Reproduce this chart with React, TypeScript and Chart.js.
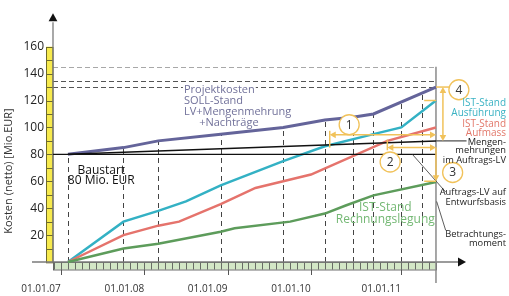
import React, { useEffect, useRef } from 'react';
import { Chart, registerables } from 'chart.js';

Chart.register(...registerables);

const FONT = "'Open Sans', 'DejaVu Sans', sans-serif";

// ---- data (x = months after 01.01.07, y = Mio. EUR) ----
const sollMonths = [1, 9, 14, 23, 32, 38, 42, 45, 54];
const sollValues = [80, 85, 90, 95, 100, 105.5, 107.5, 110, 130];

const ausfuehrungMonths = [1, 9, 14, 18, 23, 32, 38, 45, 49, 54];
const ausfuehrungValues = [0, 30, 38, 45, 57, 75, 86, 95, 100, 120];

const aufmassMonths = [1, 9, 14, 17, 23, 28, 32, 36, 47, 54];
const aufmassValues = [0, 20, 27, 30, 43, 55, 60, 65, 90, 100];

const rechnungMonths = [1, 9, 14, 23, 25, 33, 38, 41, 45, 54];
const rechnungValues = [0, 10, 13.5, 22.5, 25, 30, 36, 42, 49.5, 59.5];

const mengenMonths = [1, 54];
const mengenValues = [80, 90];

const auftragMonths = [-1.15, 54];
const auftragValues = [80, 80];

const guideMonths = [1, 9, 14, 23, 32, 38, 42, 45, 49, 52];
const budgetLevels = [145, 134.5, 130];
const betrachtungsMonth = 54;

const yTickValues = [20, 40, 60, 80, 100, 120, 140, 160];
const xTickMonths = [0, 12, 24, 36, 49];
const xTickLabels = ['01.01.07', '01.01.08', '01.01.09', '01.01.10', '01.01.11'];

const X_MIN = -1.152;
const X_MAX = 58.18;
const Y_MAX = 182.65;

const pts = (ms: number[], vs: number[]) => ms.map((m, i) => ({ x: m, y: vs[i] }));

function interp(ms: number[], vs: number[], m: number) {
  if (m <= ms[0]) return vs[0];
  for (let i = 1; i < ms.length; i++) {
    if (m <= ms[i]) {
      const t = (m - ms[i - 1]) / (ms[i] - ms[i - 1]);
      return vs[i - 1] + t * (vs[i] - vs[i - 1]);
    }
  }
  return vs[vs.length - 1];
}

function arrowHead(ctx: CanvasRenderingContext2D, x: number, y: number, dx: number, dy: number, size: number, color: string) {
  const len = Math.hypot(dx, dy);
  const ux = dx / len, uy = dy / len;
  ctx.beginPath();
  ctx.moveTo(x, y);
  ctx.lineTo(x - ux * size - uy * size * 0.55, y - uy * size + ux * size * 0.55);
  ctx.lineTo(x - ux * size + uy * size * 0.55, y - uy * size - ux * size * 0.55);
  ctx.closePath();
  ctx.fillStyle = color;
  ctx.fill();
}

const ORANGE = '#f1c25a';

export default function App() {
  const ref = useRef<HTMLCanvasElement>(null);

  useEffect(() => {
    const canvas = ref.current;
    if (!canvas) return;

    const decor = {
      id: 'decor',
      beforeDatasetsDraw(chart: any) {
        const ctx: CanvasRenderingContext2D = chart.ctx;
        const xs = chart.scales.x, ys = chart.scales.y;
        const X = (m: number) => xs.getPixelForValue(m);
        const Y = (v: number) => ys.getPixelForValue(v);
        const { left, top } = chart.chartArea;
        const y0 = Y(0);
        ctx.save();

        // budget dashed lines
        budgetLevels.forEach((lv, i) => {
          ctx.beginPath();
          ctx.setLineDash([5, 3]);
          ctx.strokeStyle = i === 0 ? '#a8a8a8' : '#555';
          ctx.lineWidth = 1;
          ctx.moveTo(left, Math.round(Y(lv)) + 0.5);
          ctx.lineTo(X(betrachtungsMonth), Math.round(Y(lv)) + 0.5);
          ctx.stroke();
        });

        // vertical guides up to SOLL line
        guideMonths.forEach((m) => {
          const px = Math.round(X(m)) + 0.5;
          ctx.beginPath();
          ctx.setLineDash([5, 4]);
          ctx.strokeStyle = '#444';
          ctx.lineWidth = 1;
          ctx.moveTo(px, y0);
          ctx.lineTo(px, Y(interp(sollMonths, sollValues, m)));
          ctx.stroke();
        });
        ctx.setLineDash([]);

        // yellow bar on the y axis
        const yb0 = left - 7;
        ctx.fillStyle = '#f7ea4d';
        ctx.fillRect(yb0, Y(160), 7, y0 - Y(160));
        ctx.strokeStyle = '#6e6a2a';
        ctx.lineWidth = 1;
        ctx.strokeRect(yb0 + 0.5, Math.round(Y(160)) + 0.5, 6.5, y0 - Y(160));
        for (let v = 10; v < 160; v += 10) {
          const py = Math.round(Y(v)) + 0.5;
          ctx.beginPath();
          ctx.moveTo(yb0, py);
          ctx.lineTo(left, py);
          ctx.stroke();
        }

        // green bar on the x axis
        const gx1 = X(betrachtungsMonth);
        ctx.fillStyle = '#d3e7c6';
        ctx.fillRect(left, y0, gx1 - left, 7.5);
        ctx.strokeStyle = '#4d4d4d';
        ctx.lineWidth = 0.8;
        ctx.strokeRect(left + 0.5, y0 + 0.5, gx1 - left, 7.5);
        for (let m = -1; m <= betrachtungsMonth; m++) {
          const px = Math.round(X(m)) + 0.5;
          if (px <= left) continue;
          ctx.beginPath();
          ctx.moveTo(px, y0);
          ctx.lineTo(px, y0 + 7.5);
          ctx.stroke();
        }
        // year ticks
        ctx.strokeStyle = '#555';
        ctx.lineWidth = 1;
        xTickMonths.forEach((m) => {
          const px = Math.round(X(m)) + 0.5;
          ctx.beginPath();
          ctx.moveTo(px, y0 + 7.5);
          ctx.lineTo(px, y0 + 13);
          ctx.stroke();
        });

        // axes
        ctx.strokeStyle = '#7a7a7a';
        ctx.lineWidth = 1.3;
        ctx.beginPath();
        ctx.moveTo(left - 21, y0);
        ctx.lineTo(chart.chartArea.right - 6, y0);
        ctx.stroke();
        arrowHead(ctx, chart.chartArea.right + 1, y0, 1, 0, 8, '#111');
        ctx.beginPath();
        ctx.moveTo(left, y0);
        ctx.lineTo(left, top + 6);
        ctx.stroke();
        arrowHead(ctx, left, top - 3, 0, -1, 8, '#111');

        // Betrachtungsmoment line
        ctx.strokeStyle = '#8a8a8a';
        ctx.lineWidth = 1.5;
        ctx.beginPath();
        ctx.moveTo(gx1, Y(145));
        ctx.lineTo(gx1, y0 + 21);
        ctx.stroke();

        // y title
        ctx.save();
        ctx.translate(9, 171);
        ctx.rotate(-Math.PI / 2);
        ctx.font = `11px ${FONT}`;
        ctx.fillStyle = '#333';
        ctx.textAlign = 'center';
        ctx.textBaseline = 'middle';
        ctx.fillText('Kosten (netto) [Mio.EUR]', 0, 0);
        ctx.restore();

        ctx.restore();
      },
      afterDatasetsDraw(chart: any) {
        const ctx: CanvasRenderingContext2D = chart.ctx;
        const xs = chart.scales.x, ys = chart.scales.y;
        const X = (m: number) => xs.getPixelForValue(m);
        const Y = (v: number) => ys.getPixelForValue(v);
        const W = chart.width;
        ctx.save();

        const line = (x1: number, y1: number, x2: number, y2: number, color: string, w: number) => {
          ctx.beginPath();
          ctx.strokeStyle = color;
          ctx.lineWidth = w;
          ctx.moveTo(x1, y1);
          ctx.lineTo(x2, y2);
          ctx.stroke();
        };

        // leader lines
        line(X(54), Y(90), X(58.4), Y(90), '#555', 1.3);
        line(X(50.6), Y(80), X(55.4), Y(52), '#333', 0.8);
        line(X(54.1), Y(45), X(55.4), Y(23.5), '#333', 0.8);

        // dimension 1
        const d1y = Y(94.5);
        line(X(38.7) + 3, d1y, X(54) - 3, d1y, ORANGE, 1.5);
        arrowHead(ctx, X(38.7), d1y, -1, 0, 6, ORANGE);
        arrowHead(ctx, X(54), d1y, 1, 0, 6, ORANGE);
        line(X(38.7), Y(97.5), X(38.7), Y(85), ORANGE, 1.5);
        // dimension 2
        const d2y = Y(85);
        line(X(47) + 3, d2y, X(54) - 3, d2y, ORANGE, 1.5);
        arrowHead(ctx, X(47), d2y, -1, 0, 6, ORANGE);
        arrowHead(ctx, X(54), d2y, 1, 0, 6, ORANGE);
        line(X(47), Y(91), X(47), Y(83), ORANGE, 1.5);
        // dimension 3
        line(X(54), Y(85), X(54), Y(60) - 4, ORANGE, 1.5);
        arrowHead(ctx, X(54), Y(60), 0, 1, 6, ORANGE);
        line(X(52.3), Y(60), X(54), Y(60), ORANGE, 1.5);
        // cyan end tick
        line(X(52.3), Y(120), X(54), Y(120), ORANGE, 1.5);
        // dimension 4
        line(X(55), Y(130) + 4, X(55), Y(90) - 4, ORANGE, 1.5);
        arrowHead(ctx, X(55), Y(130), 0, -1, 6, ORANGE);
        arrowHead(ctx, X(55), Y(90), 0, 1, 6, ORANGE);
        line(X(54), Y(130), X(56.5), Y(130), ORANGE, 1.5);

        // numbered circles
        const circles: [string, number, number][] = [
          ['1', 41.5, 102],
          ['2', 47.4, 74.3],
          ['3', 56.4, 66.5],
          ['4', 57.3, 128],
        ];
        circles.forEach(([t, m, v]) => {
          ctx.beginPath();
          ctx.arc(X(m), Y(v), 10, 0, Math.PI * 2);
          ctx.fillStyle = '#fff';
          ctx.fill();
          ctx.strokeStyle = ORANGE;
          ctx.lineWidth = 1.3;
          ctx.stroke();
          ctx.fillStyle = '#333';
          ctx.font = `12px ${FONT}`;
          ctx.textAlign = 'center';
          ctx.textBaseline = 'middle';
          ctx.fillText(t, X(m), Y(v) + 0.5);
        });

        // texts
        const text = (s: string, x: number, y: number, size: number, color: string, align: CanvasTextAlign) => {
          ctx.font = `${size}px ${FONT}`;
          ctx.fillStyle = color;
          ctx.textAlign = align;
          ctx.textBaseline = 'middle';
          ctx.fillText(s, x, y);
        };

        // Projektkosten block
        const pc = '#71719a';
        ctx.font = `11px ${FONT}`;
        const pw = ctx.measureText('Projektkosten').width;
        ctx.fillStyle = '#fff';
        ctx.fillRect(X(17.7) - 1, Y(128.1) - 5, pw + 2, 4);
        text('Projektkosten', X(17.7), Y(128.1), 11, pc, 'left');
        text('SOLL-Stand', X(17.7), Y(119.6), 11, pc, 'left');
        text('LV+Mengenmehrung', X(17.7), Y(111.5), 11, pc, 'left');
        text('+Nachträge', X(19.9), Y(103.4), 11, pc, 'left');

        text('Baustart', X(5.8), Y(68), 12, '#111', 'center');
        text('80 Mio. EUR', X(5.8), Y(60.2), 12, '#111', 'center');

        text('IST-Stand', X(46.7), Y(40.4), 12, '#74b874', 'center');
        text('Rechnungslegung', X(46.7), Y(31.2), 12, '#74b874', 'center');

        const rx = W - 3;
        text('IST-Stand', rx, Y(118.2), 10, '#3ab2c3', 'right');
        text('Ausführung', rx, Y(110.4), 10, '#3ab2c3', 'right');
        text('IST-Stand', rx, Y(102.7), 10, '#e2786a', 'right');
        text('Aufmass', rx, Y(95.6), 10, '#e2786a', 'right');
        text('Mengen-', rx, Y(89.2), 9.3, '#222', 'right');
        text('mehrungen', rx, Y(82.6), 9.3, '#222', 'right');
        text('im Auftrags-LV', rx, Y(75.8), 9.3, '#222', 'right');
        text('Auftrags-LV auf', rx, Y(51.7), 9.3, '#222', 'right');
        text('Entwurfsbasis', rx, Y(44.6), 9.3, '#222', 'right');
        text('Betrachtungs-', rx, Y(20.5), 9.3, '#222', 'right');
        text('moment', rx, Y(13.5), 9.3, '#222', 'right');

        ctx.restore();
      },
    };

    const ds = (label: string, ms: number[], vs: number[], color: string, width: number) => ({
      label,
      data: pts(ms, vs),
      borderColor: color,
      backgroundColor: color,
      borderWidth: width,
      pointRadius: 0,
      tension: 0,
      fill: false,
      clip: false as any,
    });

    const chart = new Chart(canvas, {
      type: 'line',
      data: {
        datasets: [
          ds('Auftrags-LV', auftragMonths, auftragValues, '#111', 1.3),
          ds('Mengenmehrungen', mengenMonths, mengenValues, '#111', 1.5),
          ds('IST-Stand Rechnungslegung', rechnungMonths, rechnungValues, '#5d9c5b', 2.5),
          ds('IST-Stand Aufmass', aufmassMonths, aufmassValues, '#e5736c', 2.5),
          ds('IST-Stand Ausführung', ausfuehrungMonths, ausfuehrungValues, '#33b1c4', 2.5),
          ds('Projektkosten SOLL-Stand', sollMonths, sollValues, '#64649a', 3),
        ],
      },
      options: {
        responsive: false,
        animation: false,
        layout: { padding: { left: 0, right: 44, top: 4, bottom: 0 } },
        plugins: { legend: { display: false }, tooltip: { enabled: false } },
        scales: {
          x: {
            type: 'linear',
            min: X_MIN,
            max: X_MAX,
            grid: { display: false, drawTicks: false },
            border: { display: false },
            ticks: {
              autoSkip: false,
              maxRotation: 0,
              padding: 21,
              labelOffset: -20,
              color: '#333',
              font: { family: FONT, size: 10 },
              callback: (_v: any, i: number) => xTickLabels[i],
            },
            afterBuildTicks: (s: any) => {
              s.ticks = xTickMonths.map((v) => ({ value: v }));
            },
            afterFit: (s: any) => {
              s.height = 34;
            },
          },
          y: {
            type: 'linear',
            min: 0,
            max: Y_MAX,
            grid: { display: false, drawTicks: false },
            border: { display: false },
            ticks: {
              padding: 9,
              color: '#222',
              font: { family: FONT, size: 12 },
            },
            afterBuildTicks: (s: any) => {
              s.ticks = yTickValues.map((v) => ({ value: v }));
            },
            afterFit: (s: any) => {
              s.width = 53;
            },
          },
        },
      },
      plugins: [decor as any],
    });

    return () => chart.destroy();
  }, []);

  return (
    <canvas
      ref={ref}
      width={509}
      height={296}
      style={{ position: 'absolute', left: 0, top: 0, width: 509, height: 296, background: '#fff' }}
    />
  );
}
